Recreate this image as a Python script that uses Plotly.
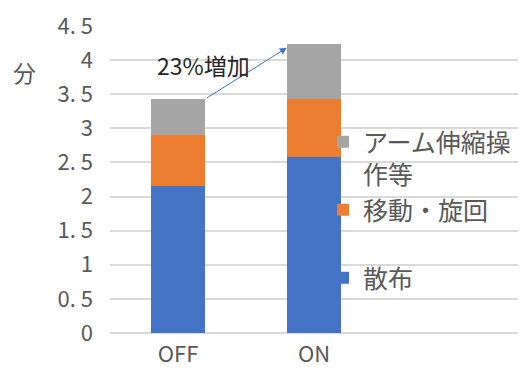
import plotly.graph_objects as go

# Working time per condition, stacked by task (minutes)
categories = ["OFF", "ON"]
series_names = ["散布", "移動・旋回<br> ", "アーム伸縮操<br>作等"]
spray = [2.16, 2.58]
move_turn = [0.74, 0.85]
arm_etc = [0.53, 0.80]
series_values = [spray, move_turn, arm_etc]
series_colors = ["#4472C4", "#ED7D31", "#A5A5A5"]

ytick_values = [0, 0.5, 1, 1.5, 2, 2.5, 3, 3.5, 4, 4.5]
ytick_labels = ["0", "0. 5", "1", "1. 5", "2", "2. 5", "3", "3. 5", "4", "4. 5"]
y_unit = "分"
increase_label = "23%増加"

FONT = "Noto Sans CJK JP"
GREY_TEXT = "#595959"

W, H = 522, 372
ml, mr, mt, mb = 110, 4, 26, 39
pw, ph = W - ml - mr, H - mt - mb


def px_x(px):
    return (px - ml) / pw


def px_y(py):
    return (H - mb - py) / ph


x_pos = list(range(len(categories)))

fig = go.Figure()
for name, vals, col in zip(series_names, series_values, series_colors):
    fig.add_trace(go.Bar(
        x=x_pos, y=vals, name=name, width=0.4,
        marker=dict(color=col, line=dict(width=0)),
    ))

totals = [sum(v[i] for v in series_values) for i in x_pos]

# Arrow from the OFF total to the ON total with the increase label
fig.add_annotation(
    x=x_pos[1] - 0.2, y=totals[1] - 0.05, xref="x", yref="y",
    ax=x_pos[0] + 0.2, ay=totals[0], axref="x", ayref="y",
    showarrow=True, arrowhead=2, arrowsize=1.4, arrowwidth=1,
    arrowcolor="#4472C4", text="",
)
fig.add_annotation(
    x=0.19, y=3.93, xref="x", yref="y", text=increase_label,
    showarrow=False, font=dict(family=FONT, size=23, color="#262626"),
)
fig.add_annotation(
    x=px_x(24), y=px_y(72), xref="paper", yref="paper", text=y_unit,
    xanchor="center", yanchor="middle", showarrow=False,
    font=dict(family=FONT, size=23, color=GREY_TEXT),
)

fig.update_layout(
    width=W, height=H,
    margin=dict(l=ml, r=mr, t=mt, b=mb),
    barmode="stack",
    paper_bgcolor="white", plot_bgcolor="white",
    font=dict(family=FONT, color=GREY_TEXT),
    legend=dict(
        x=px_x(323), y=px_y(119), xanchor="left", yanchor="top",
        traceorder="reversed", valign="top",
        font=dict(family=FONT, size=25, color=GREY_TEXT),
        bgcolor="rgba(0,0,0,0)", itemwidth=30, tracegroupgap=0,
    ),
    xaxis=dict(
        range=[-0.5, 2.5], tickvals=x_pos, ticktext=categories,
        showgrid=False, zeroline=False, showline=False, ticks="",
        ticklabelstandoff=6,
        tickfont=dict(family=FONT, size=22, color=GREY_TEXT),
    ),
    yaxis=dict(
        range=[0, 4.5], tickvals=ytick_values, ticktext=ytick_labels,
        showgrid=True, gridcolor="#D9D9D9", gridwidth=1.5,
        zeroline=True, zerolinecolor="#D9D9D9", zerolinewidth=1.5,
        showline=False, ticks="", ticklabelstandoff=16,
        tickfont=dict(family=FONT, size=22, color=GREY_TEXT),
    ),
)

fig.write_html("out.html")
